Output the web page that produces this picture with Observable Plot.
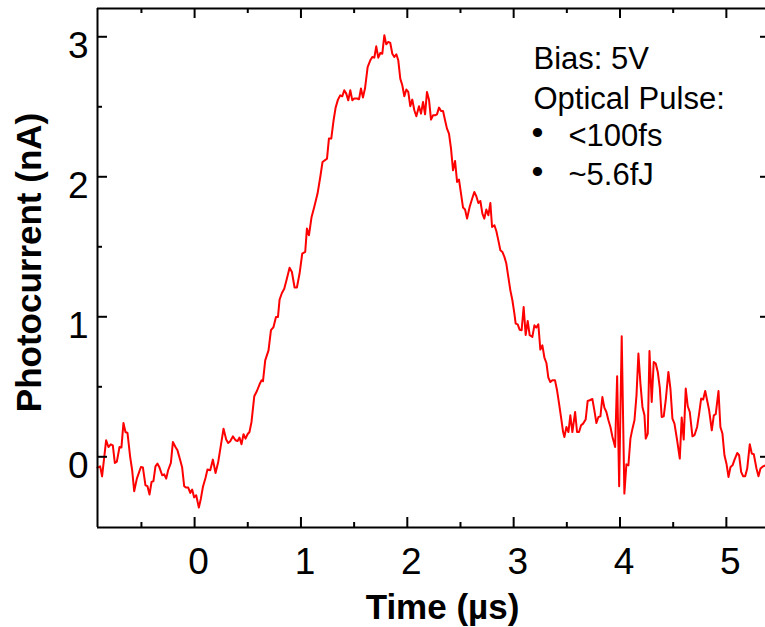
<!DOCTYPE html>
<html>
<head>
<meta charset="utf-8">
<script src="https://cdn.jsdelivr.net/npm/d3@7"></script>
<script src="https://cdn.jsdelivr.net/npm/@observablehq/plot@0.6"></script>
<style>
  html, body { margin: 0; padding: 0; background: #fff; }
  #chart svg { display: block; }
</style>
</head>
<body>
<div id="chart"></div>
<script>
// ---- data: [time (µs), photocurrent (nA)] ----
const trace = [
[-0.913,-0.077],[-0.888,-0.068],[-0.870,-0.140],[-0.832,0.118],[-0.810,0.070],[-0.788,0.089],[-0.769,0.082],[-0.750,-0.044],[-0.731,-0.034],[-0.706,0.070],[-0.688,0.066],[-0.669,0.241],[-0.650,0.177],[-0.631,0.170],[-0.606,0.000],[-0.587,-0.096],[-0.568,-0.246],[-0.543,-0.156],[-0.505,-0.073],[-0.486,-0.077],[-0.462,-0.204],[-0.443,-0.210],[-0.424,-0.270],[-0.405,-0.180],[-0.387,-0.173],[-0.368,-0.068],[-0.349,-0.049],[-0.330,-0.077],[-0.305,-0.132],[-0.286,-0.125],[-0.267,-0.156],[-0.249,-0.096],[-0.223,-0.044],[-0.204,0.106],[-0.180,0.070],[-0.161,0.046],[-0.135,-0.025],[-0.117,-0.077],[-0.098,-0.210],[-0.079,-0.220],[-0.060,-0.220],[-0.041,-0.258],[-0.023,-0.234],[-0.004,-0.290],[0.015,-0.275],[0.040,-0.363],[0.059,-0.299],[0.078,-0.216],[0.103,-0.149],[0.121,-0.091],[0.147,-0.096],[0.172,-0.020],[0.197,-0.116],[0.222,-0.037],[0.247,0.082],[0.272,0.201],[0.297,0.123],[0.316,0.099],[0.335,0.111],[0.360,0.146],[0.385,0.118],[0.404,0.113],[0.422,0.137],[0.441,0.089],[0.460,0.161],[0.479,0.130],[0.498,0.161],[0.516,0.177],[0.535,0.249],[0.561,0.432],[0.586,0.470],[0.611,0.518],[0.629,0.546],
[0.643,0.540],[0.664,0.689],[0.695,0.760],[0.718,0.904],[0.742,0.927],[0.765,0.999],[0.784,0.999],[0.799,1.123],[0.821,1.170],[0.843,1.201],[0.868,1.273],[0.893,1.351],[0.915,1.320],[0.940,1.209],[0.962,1.209],[0.987,1.309],[1.012,1.451],[1.040,1.463],[1.056,1.630],[1.075,1.582],[1.100,1.713],[1.125,1.784],[1.156,1.880],[1.182,2.000],[1.203,2.106],[1.245,2.130],[1.263,2.273],[1.285,2.273],[1.307,2.404],[1.326,2.494],[1.348,2.551],[1.370,2.582],[1.389,2.575],[1.407,2.618],[1.426,2.594],[1.445,2.546],[1.464,2.618],[1.483,2.546],[1.501,2.559],[1.527,2.559],[1.546,2.554],[1.564,2.630],[1.583,2.566],[1.602,2.630],[1.627,2.784],[1.652,2.832],[1.671,2.856],[1.690,2.851],[1.708,2.932],[1.727,2.851],[1.746,2.884],[1.765,2.879],[1.784,3.011],[1.802,2.946],[1.821,2.963],[1.840,2.956],[1.859,2.879],[1.878,2.856],[1.897,2.875],[1.915,2.832],[1.934,2.701],[1.953,2.654],[1.972,2.575],[1.991,2.623],[2.009,2.606],[2.028,2.504],[2.047,2.551],[2.066,2.475],[2.085,2.432],[2.110,2.504],[2.129,2.451],[2.148,2.534],[2.167,2.446],[2.185,2.606],[2.204,2.551],[2.223,2.409],[2.242,2.439],[2.261,2.439],[2.279,2.446],[2.298,2.494],[2.317,2.470],[2.336,2.470],[2.355,2.404],[2.373,2.344],[2.392,2.309],[2.411,2.201],[2.430,2.046],[2.449,2.113],[2.468,1.963],[2.486,1.980],[2.505,1.880],[2.524,1.780],[2.543,1.766],[2.562,1.701],[2.586,1.784],[2.605,1.832],[2.630,1.891],[2.649,1.861],[2.668,1.813],[2.687,1.827],[2.706,1.737],[2.724,1.701],[2.743,1.766],[2.762,1.725],[2.781,1.813],[2.797,1.641],[2.819,1.654],[2.837,1.613],[2.856,1.546],[2.875,1.475],[2.894,1.463],[2.913,1.428],[2.931,1.380],[2.950,1.284],[2.969,1.189],[2.988,1.118],[3.007,1.023],[3.019,0.951],[3.038,0.946],[3.056,0.908],[3.075,0.904],[3.094,1.070],[3.113,0.870],[3.132,0.970],[3.151,0.868],[3.176,0.856],[3.195,0.939],[3.213,0.923],[3.232,0.946],[3.251,0.766],[3.270,0.796],[3.289,0.709],[3.308,0.670],[3.326,0.566],[3.345,0.534],[3.364,0.546],[3.389,0.546],[3.408,0.475],[3.427,0.380],[3.446,0.280],[3.465,0.177],[3.477,0.141],[3.496,0.213],[3.515,0.177],[3.533,0.296],[3.552,0.177],[3.578,0.320],[3.596,0.177],[3.615,0.177],[3.634,0.225],[3.653,0.237],[3.677,0.266],[3.696,0.399],[3.715,0.404],[3.740,0.413],[3.759,0.332],[3.778,0.241],[3.797,0.284],[3.816,0.289],[3.834,0.427],[3.853,0.351],[3.872,0.320],[3.891,0.261],[3.910,0.213],[3.929,0.141],[3.954,0.070],[3.973,0.575],[3.992,-0.210],[4.016,0.861],[4.041,-0.263],[4.060,-0.054],[4.079,-0.061],[4.098,0.130],[4.117,0.201],[4.136,0.261],[4.155,0.439],[4.173,0.737],[4.192,0.523],[4.211,0.356],[4.230,0.296],[4.242,0.130],[4.261,0.166],[4.277,0.756],[4.298,0.391],[4.317,0.677],[4.336,0.666],[4.355,0.606],[4.374,0.494],[4.392,0.284],[4.411,0.289],[4.430,0.404],[4.455,0.606],[4.474,0.487],[4.493,0.273],[4.512,0.237],[4.537,0.118],[4.562,-0.013],[4.580,0.280],[4.599,0.123],[4.618,0.487],[4.637,0.361],[4.656,0.320],[4.681,0.146],[4.700,0.154],[4.725,0.213],[4.744,0.309],[4.763,0.416],[4.782,0.409],[4.801,0.470],[4.819,0.404],[4.838,0.332],[4.863,0.189],[4.882,0.296],[4.900,0.304],[4.926,0.470],[4.944,0.213],[4.963,0.166],[4.982,0.011],[5.001,-0.049],[5.020,-0.144],[5.039,-0.073],[5.058,-0.061],[5.077,-0.020],[5.102,0.027],[5.120,0.011],[5.139,-0.108],[5.158,-0.139],[5.177,-0.139],[5.196,-0.084],[5.220,0.089],[5.239,0.023],[5.258,0.018],[5.283,-0.084],[5.302,-0.139],[5.321,-0.084],[5.346,-0.068],[5.368,-0.061]
];

const xDomain = [-0.913, 5.368];
const yDomain = [-0.505, 3.202];
const xMajorTicks = [0, 1, 2, 3, 4, 5];
const xMinorTicks = [-0.5, 0.5, 1.5, 2.5, 3.5, 4.5];
const yMajorTicks = [0, 1, 2, 3];
const yMinorTicks = [0.5, 1.5, 2.5];
const xTitle = "Time (µs)";
const yTitle = "Photocurrent (nA)";
const legendLines = ["Bias: 5V", "Optical Pulse:"];
const legendBullets = ["<100fs", "~5.6fJ"];

// ---- layout ----
const W = 765, H = 627;
const mL = 97, mR = 0, mT = 8, mB = 100;
const fw = W - mL - mR, fh = H - mT - mB;
const font = "'Liberation Sans', Arial, Helvetica, sans-serif";
const major = 10, minor = 5, sw = 2;

const rows = trace.map(([t, i]) => ({t, i}));

const marks = [
  // curve
  Plot.line(rows, {x: "t", y: "i", stroke: "#ff0000", strokeWidth: 2, strokeLinejoin: "round"}),
  // axis lines
  Plot.ruleX([xDomain[0]], {stroke: "#000", strokeWidth: sw}),
  Plot.ruleY([yDomain[0]], {stroke: "#000", strokeWidth: sw}),
  Plot.ruleY([yDomain[1]], {stroke: "#000", strokeWidth: sw}),
  // bottom ticks (inward)
  Plot.tickX(xMajorTicks, {x: d => d, insetTop: fh - major, strokeWidth: sw}),
  Plot.tickX(xMinorTicks, {x: d => d, insetTop: fh - minor, strokeWidth: sw}),
  // top ticks (inward)
  Plot.tickX(xMajorTicks, {x: d => d, insetBottom: fh - major, strokeWidth: sw}),
  Plot.tickX(xMinorTicks, {x: d => d, insetBottom: fh - minor, strokeWidth: sw}),
  // left ticks (inward)
  Plot.tickY(yMajorTicks, {y: d => d, insetRight: fw - major, strokeWidth: sw}),
  Plot.tickY(yMinorTicks, {y: d => d, insetRight: fw - minor, strokeWidth: sw}),
  // right ticks (inward)
  Plot.tickY(yMajorTicks, {y: d => d, insetLeft: fw - minor, strokeWidth: sw}),
  // tick labels
  Plot.text(xMajorTicks, {x: d => d, text: d => String(d), frameAnchor: "bottom", lineAnchor: "top", dy: 20, dx: 4, fontSize: 37, fill: "#000"}),
  Plot.text(yMajorTicks, {y: d => d, text: d => String(d), frameAnchor: "left", textAnchor: "end", dx: -9, dy: 9, fontSize: 37, fill: "#000"}),
  // axis titles
  Plot.text([xTitle], {text: d => d, frameAnchor: "bottom", lineAnchor: "bottom", dx: 442 - (mL + fw / 2), dy: 91, fontSize: 35, fontWeight: "bold", fill: "#000"}),
  Plot.text([yTitle], {text: d => d, frameAnchor: "left", textAnchor: "middle", rotate: -90, lineAnchor: "bottom", dx: 40 - mL, dy: 262 - (mT + fh / 2), fontSize: 35, fontWeight: "bold", fill: "#000"}),
  // annotation
  Plot.text([legendLines[0]], {text: d => d, frameAnchor: "top-left", textAnchor: "start", lineAnchor: "bottom", dx: 436, dy: 60, fontSize: 31, fill: "#000"}),
  Plot.text([legendLines[1]], {text: d => d, frameAnchor: "top-left", textAnchor: "start", lineAnchor: "bottom", dx: 436, dy: 100, fontSize: 31, fill: "#000"}),
  Plot.text([legendBullets[0]], {text: d => d, frameAnchor: "top-left", textAnchor: "start", lineAnchor: "bottom", dx: 471, dy: 137, fontSize: 31, fill: "#000"}),
  Plot.text([legendBullets[1]], {text: d => d, frameAnchor: "top-left", textAnchor: "start", lineAnchor: "bottom", dx: 471, dy: 176, fontSize: 31, fill: "#000"}),
  Plot.text(["•"], {text: d => d, frameAnchor: "top-left", textAnchor: "middle", lineAnchor: "bottom", dx: 440, dy: 135, fontSize: 34, fill: "#000"}),
  Plot.text(["•"], {text: d => d, frameAnchor: "top-left", textAnchor: "middle", lineAnchor: "bottom", dx: 440, dy: 174, fontSize: 34, fill: "#000"})
];

const chart = Plot.plot({
  width: W,
  height: H,
  marginLeft: mL,
  marginRight: mR,
  marginTop: mT,
  marginBottom: mB,
  x: {domain: xDomain, axis: null},
  y: {domain: yDomain, axis: null},
  style: {fontFamily: font, background: "#fff", color: "#000", overflow: "visible"},
  marks
});
document.getElementById("chart").appendChild(chart);
</script>
</body>
</html>
